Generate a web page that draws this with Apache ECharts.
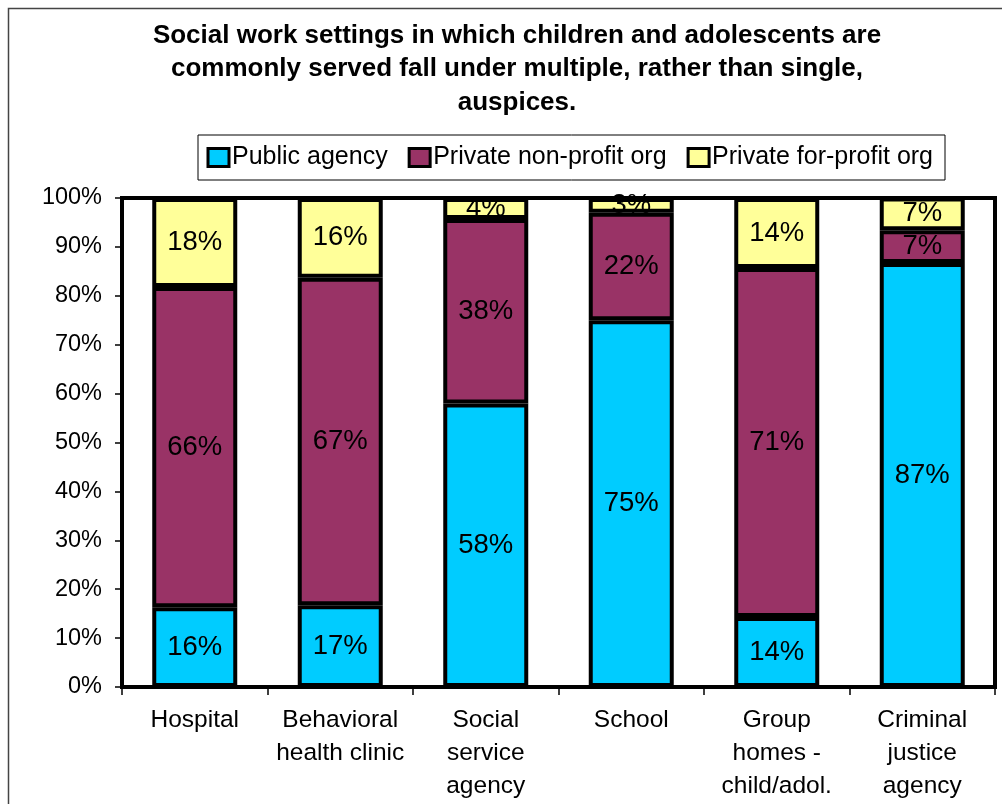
<!DOCTYPE html>
<html>
<head>
<meta charset="utf-8">
<script src="https://cdn.jsdelivr.net/npm/echarts@6/dist/echarts.min.js"></script>
<style>
html,body{margin:0;padding:0;background:#fff;}
#chart{width:1002px;height:804px;}
</style>
</head>
<body>
<div id="chart"></div>
<script>
const categories = ['Hospital', 'Behavioral\nhealth clinic', 'Social\nservice\nagency', 'School', 'Group\nhomes -\nchild/adol.', 'Criminal\njustice\nagency'];
const publicAgency = [16.3, 16.7, 58.0, 75.0, 14.3, 86.7];
const privateNonProfit = [65.5, 67.0, 37.7, 22.0, 71.4, 6.7];
const privateForProfit = [18.2, 16.3, 4.3, 3.0, 14.3, 6.7];
const yTicks = [0, 10, 20, 30, 40, 50, 60, 70, 80, 90, 100];

const FONT = '"Liberation Sans", Arial, sans-serif';
const GRID = {left: 122, right: 7, top: 198, bottom: 117};

const chart = echarts.init(document.getElementById('chart'), null, {renderer: 'canvas'});

function mkSeries(name, data, color) {
  return {
    name: name,
    type: 'bar',
    stack: 'total',
    data: data,
    barWidth: 85,
    itemStyle: {color: color, borderColor: '#000', borderWidth: 4},
    label: {
      show: true,
      position: 'inside',
      color: '#000',
      fontFamily: FONT,
      fontSize: 27.5,
      formatter: p => Math.round(p.value) + '%'
    },
    emphasis: {disabled: true}
  };
}

const option = {
  backgroundColor: '#fff',
  animation: false,
  title: {
    text: 'Social work settings in which children and adolescents are\ncommonly served fall under multiple, rather than single,\nauspices.',
    left: 517,
    top: 19,
    padding: 0,
    textAlign: 'center',
    textStyle: {fontFamily: FONT, fontWeight: 'bold', fontSize: 26, lineHeight: 33.5, color: '#000'}
  },
  legend: {
    left: 198,
    top: 135,
    padding: [10, 12, 10, 8.5],
    itemGap: 20,
    itemWidth: 21,
    itemHeight: 18,
    icon: 'rect',
    borderColor: '#000',
    borderWidth: 1,
    backgroundColor: '#fff',
    itemStyle: {borderColor: '#000', borderWidth: 3},
    textStyle: {fontFamily: FONT, fontSize: 25, color: '#000', padding: [0, 0, 0, -2]},
    data: ['Public agency', 'Private non-profit org', 'Private for-profit org']
  },
  grid: Object.assign({containLabel: false, outerBoundsMode: 'none'}, GRID),
  xAxis: {
    type: 'category',
    data: categories,
    axisLine: {show: true, lineStyle: {color: '#000', width: 4}},
    axisTick: {show: true, length: 8, lineStyle: {color: '#000', width: 1.5}},
    axisLabel: {fontFamily: FONT, fontSize: 24.5, lineHeight: 33, color: '#000', margin: 17, interval: 0}
  },
  yAxis: {
    type: 'value',
    min: yTicks[0],
    max: yTicks[yTicks.length - 1],
    interval: 10,
    axisLine: {show: true, lineStyle: {color: '#000', width: 4}},
    axisTick: {show: true, length: 7, lineStyle: {color: '#000', width: 1.5}},
    splitLine: {show: false},
    axisLabel: {fontFamily: FONT, fontSize: 23.5, color: '#000', margin: 20, formatter: '{value}%'}
  },
  graphic: [
    {
      type: 'rect', z: -10, silent: true,
      shape: {x: 8.5, y: 8.5, width: 1100, height: 900},
      style: {fill: 'none', stroke: '#444', lineWidth: 1.5}
    },
    {
      type: 'rect', z: 100, silent: true,
      shape: {x: GRID.left, y: GRID.top, width: 1002 - GRID.left - GRID.right, height: 804 - GRID.top - GRID.bottom},
      style: {fill: 'none', stroke: '#000', lineWidth: 4}
    }
  ],
  series: [
    mkSeries('Public agency', publicAgency, '#00CCFF'),
    mkSeries('Private non-profit org', privateNonProfit, '#993366'),
    mkSeries('Private for-profit org', privateForProfit, '#FFFF99')
  ]
};
chart.setOption(option);
</script>
</body>
</html>
